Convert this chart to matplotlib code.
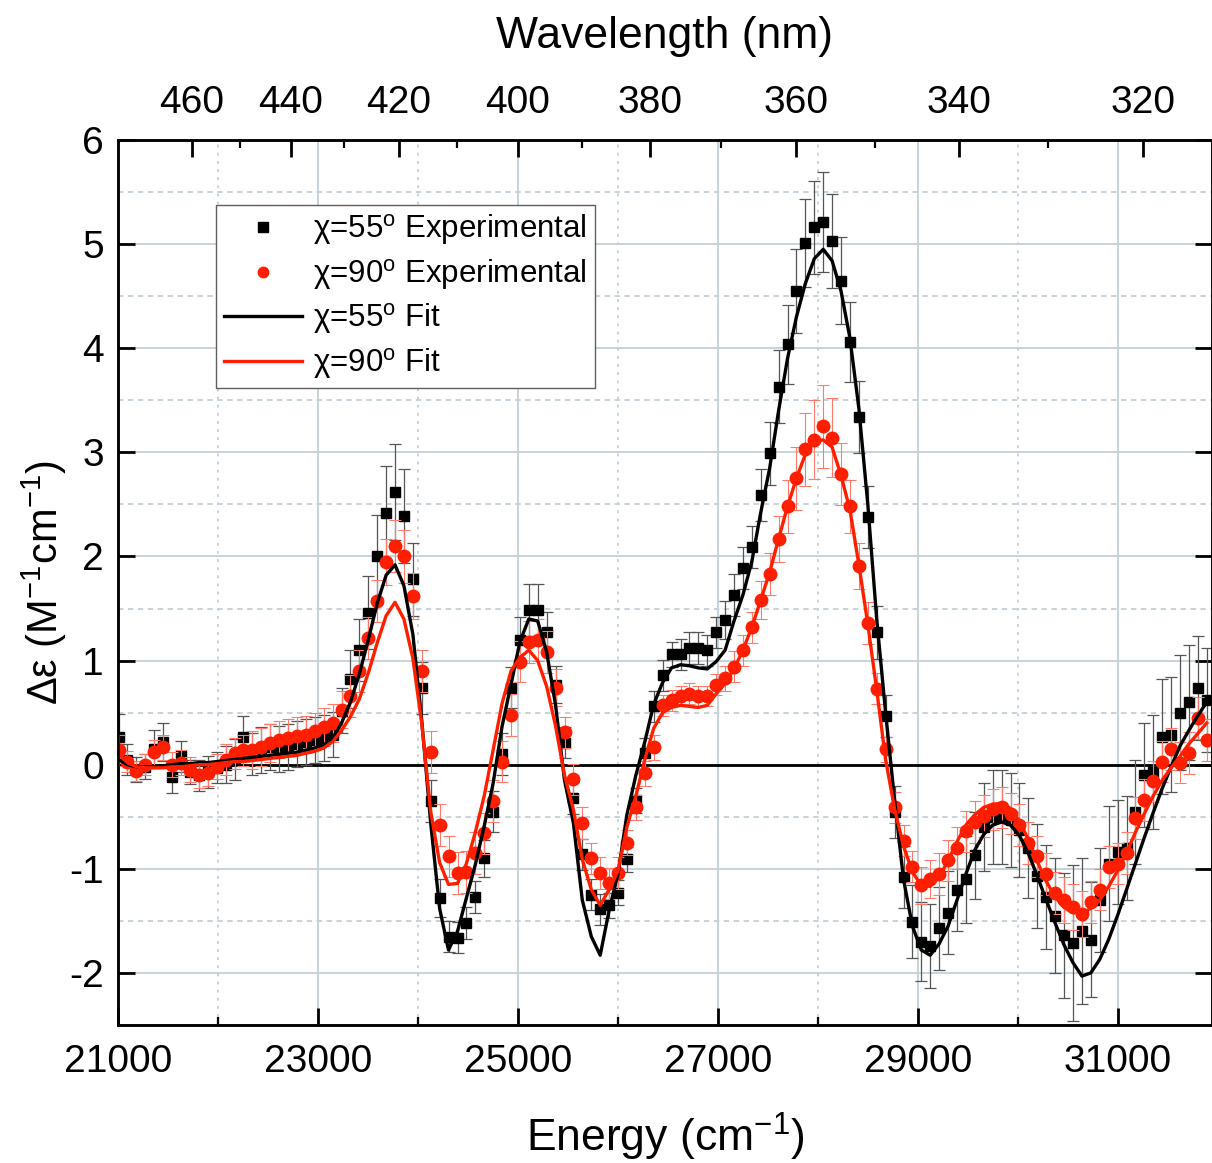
import numpy as np
import matplotlib.pyplot as plt
from matplotlib.lines import Line2D

plt.rcParams['font.family'] = ['Liberation Sans', 'DejaVu Sans']
plt.rcParams['mathtext.fontset'] = 'custom'
plt.rcParams['mathtext.rm'] = 'Liberation Sans'
plt.rcParams['mathtext.it'] = 'Liberation Sans:italic'
plt.rcParams['axes.unicode_minus'] = False

# Energy of each measured point (cm^-1)
energy = [
    21005, 21094, 21183, 21273, 21362, 21451, 21540, 21629, 21719, 21808,
    21897, 21986, 22075, 22165, 22254, 22343, 22432, 22521, 22611, 22700,
    22789, 22878, 22967, 23057, 23146, 23235, 23324, 23413, 23503, 23592,
    23681, 23770, 23859, 23949, 24038, 24127, 24216, 24305, 24395, 24484,
    24573, 24662, 24751, 24841, 24930, 25019, 25108, 25197, 25287, 25376,
    25465, 25554, 25643, 25733, 25822, 25911, 26000, 26089, 26179, 26268,
    26357, 26446, 26535, 26625, 26714, 26803, 26892, 26981, 27071, 27160,
    27249, 27338, 27427, 27517, 27606, 27695, 27784, 27873, 27963, 28052,
    28141, 28230, 28319, 28409, 28498, 28587, 28676, 28765, 28855, 28944,
    29033, 29122, 29211, 29301, 29390, 29479, 29568, 29657, 29747, 29836,
    29925, 30014, 30103, 30193, 30282, 30371, 30460, 30549, 30639, 30728,
    30817, 30906, 30995, 31085, 31174, 31263, 31352, 31441, 31531, 31620,
    31709, 31798, 31887]

# chi = 55 deg experimental
exp55 = [
    0.27, 0.05, -0.05, -0.02, 0.15, 0.22, -0.12, 0.08, -0.07, -0.10,
    -0.07, -0.03, 0.00, 0.05, 0.27, 0.10, 0.14, 0.17, 0.15, 0.17,
    0.20, 0.22, 0.24, 0.26, 0.29, 0.52, 0.82, 1.10, 1.46, 2.00,
    2.42, 2.62, 2.39, 1.78, 0.74, -0.35, -1.28, -1.65, -1.66, -1.52,
    -1.27, -0.90, -0.45, 0.10, 0.74, 1.20, 1.49, 1.49, 1.27, 0.77,
    0.21, -0.32, -0.86, -1.25, -1.39, -1.35, -1.23, -0.91, -0.34, 0.11,
    0.56, 0.86, 1.06, 1.06, 1.12, 1.12, 1.10, 1.27, 1.39, 1.63,
    1.89, 2.09, 2.59, 2.99, 3.63, 4.04, 4.55, 5.01, 5.16, 5.21,
    5.03, 4.65, 4.06, 3.34, 2.38, 1.27, 0.47, -0.45, -1.08, -1.51,
    -1.70, -1.74, -1.57, -1.42, -1.20, -1.10, -0.87, -0.60, -0.50, -0.50,
    -0.53, -0.63, -0.80, -1.07, -1.27, -1.45, -1.64, -1.71, -1.60, -1.68,
    -1.30, -0.95, -0.84, -0.80, -0.45, -0.10, -0.07, 0.27, 0.29, 0.50,
    0.60, 0.74, 0.62]

err55 = [
    0.22, 0.15, 0.12, 0.12, 0.18, 0.18, 0.15, 0.15, 0.12, 0.15,
    0.15, 0.15, 0.18, 0.20, 0.20, 0.20, 0.22, 0.22, 0.22, 0.22,
    0.22, 0.22, 0.22, 0.22, 0.22, 0.22, 0.28, 0.30, 0.35, 0.40,
    0.45, 0.46, 0.45, 0.35, 0.25, 0.20, 0.18, 0.15, 0.15, 0.15,
    0.15, 0.18, 0.20, 0.20, 0.20, 0.22, 0.25, 0.25, 0.20, 0.18,
    0.15, 0.15, 0.15, 0.15, 0.15, 0.12, 0.12, 0.12, 0.12, 0.15,
    0.15, 0.15, 0.12, 0.15, 0.15, 0.15, 0.15, 0.15, 0.18, 0.20,
    0.20, 0.20, 0.25, 0.30, 0.35, 0.38, 0.40, 0.42, 0.45, 0.48,
    0.45, 0.42, 0.38, 0.35, 0.30, 0.25, 0.20, 0.25, 0.30, 0.35,
    0.38, 0.40, 0.40, 0.40, 0.40, 0.42, 0.42, 0.42, 0.45, 0.45,
    0.45, 0.45, 0.48, 0.50, 0.50, 0.55, 0.60, 0.75, 0.70, 0.55,
    0.50, 0.55, 0.50, 0.50, 0.50, 0.50, 0.55, 0.55, 0.55, 0.55,
    0.55, 0.50, 0.50]

# chi = 90 deg experimental
exp90 = [
    0.14, 0.03, -0.06, 0.00, 0.12, 0.17, 0.00, 0.02, -0.05, -0.10,
    -0.08, -0.02, 0.05, 0.11, 0.14, 0.14, 0.17, 0.21, 0.24, 0.26,
    0.28, 0.29, 0.32, 0.36, 0.40, 0.53, 0.66, 0.90, 1.22, 1.57,
    1.95, 2.10, 2.00, 1.62, 0.90, 0.12, -0.58, -0.88, -1.04, -1.03,
    -0.85, -0.66, -0.35, 0.03, 0.48, 0.99, 1.18, 1.20, 1.08, 0.74,
    0.31, -0.14, -0.56, -0.90, -1.04, -1.14, -1.04, -0.75, -0.41, -0.08,
    0.17, 0.57, 0.62, 0.66, 0.68, 0.66, 0.66, 0.77, 0.83, 0.94,
    1.10, 1.32, 1.58, 1.83, 2.17, 2.48, 2.75, 3.03, 3.12, 3.25,
    3.14, 2.79, 2.48, 1.91, 1.36, 0.73, 0.15, -0.41, -0.73, -0.98,
    -1.16, -1.10, -1.05, -0.92, -0.80, -0.64, -0.55, -0.49, -0.43, -0.41,
    -0.47, -0.58, -0.75, -0.88, -1.05, -1.23, -1.30, -1.37, -1.43, -1.32,
    -1.20, -0.98, -0.95, -0.85, -0.51, -0.34, -0.16, 0.03, 0.15, 0.02,
    0.11, 0.45, 0.24]

err90 = [
    0.15, 0.10, 0.10, 0.10, 0.12, 0.12, 0.12, 0.12, 0.12, 0.12,
    0.12, 0.12, 0.15, 0.15, 0.15, 0.18, 0.18, 0.18, 0.18, 0.18,
    0.18, 0.18, 0.18, 0.18, 0.18, 0.18, 0.20, 0.20, 0.20, 0.20,
    0.22, 0.25, 0.25, 0.22, 0.20, 0.20, 0.20, 0.20, 0.20, 0.20,
    0.20, 0.20, 0.20, 0.20, 0.20, 0.20, 0.20, 0.20, 0.20, 0.18,
    0.15, 0.15, 0.15, 0.15, 0.15, 0.15, 0.15, 0.12, 0.12, 0.12,
    0.12, 0.10, 0.10, 0.10, 0.10, 0.10, 0.10, 0.10, 0.12, 0.15,
    0.15, 0.15, 0.18, 0.20, 0.22, 0.25, 0.30, 0.35, 0.38, 0.40,
    0.38, 0.30, 0.25, 0.22, 0.20, 0.15, 0.12, 0.15, 0.15, 0.15,
    0.18, 0.18, 0.20, 0.20, 0.20, 0.20, 0.20, 0.20, 0.20, 0.20,
    0.20, 0.20, 0.20, 0.20, 0.20, 0.20, 0.22, 0.22, 0.22, 0.20,
    0.20, 0.20, 0.20, 0.20, 0.20, 0.20, 0.20, 0.20, 0.20, 0.20,
    0.20, 0.20, 0.20]

# fits, evaluated at the same energies
fit55 = [
    0.05, 0.00, -0.02, -0.02, -0.02, -0.01, 0.00, 0.01, 0.01, 0.02,
    0.02, 0.03, 0.04, 0.05, 0.06, 0.07, 0.08, 0.09, 0.10, 0.11,
    0.12, 0.14, 0.16, 0.19, 0.25, 0.40, 0.60, 0.87, 1.20, 1.55,
    1.82, 1.92, 1.72, 1.25, 0.42, -0.56, -1.38, -1.78, -1.60, -1.28,
    -0.96, -0.59, -0.18, 0.37, 0.77, 1.18, 1.40, 1.38, 1.08, 0.57,
    -0.15, -0.56, -1.30, -1.65, -1.83, -1.40, -1.05, -0.48, -0.10, 0.22,
    0.58, 0.79, 0.93, 0.96, 0.95, 0.93, 0.92, 0.99, 1.10, 1.38,
    1.63, 1.95, 2.42, 2.85, 3.40, 3.90, 4.30, 4.62, 4.86, 4.95,
    4.84, 4.55, 4.10, 3.42, 2.50, 1.40, 0.50, -0.33, -1.10, -1.55,
    -1.78, -1.83, -1.72, -1.55, -1.30, -1.05, -0.82, -0.67, -0.58, -0.55,
    -0.58, -0.68, -0.85, -1.07, -1.30, -1.52, -1.73, -1.90, -2.03, -2.00,
    -1.87, -1.68, -1.45, -1.20, -0.95, -0.70, -0.46, -0.23, -0.02, 0.18,
    0.33, 0.47, 0.60]

fit90 = [
    0.10, 0.02, -0.02, -0.03, -0.03, -0.03, -0.02, -0.02, -0.01, 0.00,
    0.00, 0.01, 0.02, 0.03, 0.03, 0.04, 0.05, 0.06, 0.07, 0.08,
    0.09, 0.11, 0.13, 0.16, 0.22, 0.33, 0.46, 0.63, 0.88, 1.17,
    1.43, 1.56, 1.40, 1.02, 0.39, -0.45, -0.94, -1.15, -1.14, -0.95,
    -0.65, -0.30, 0.14, 0.59, 0.90, 1.03, 1.10, 1.00, 0.75, 0.37,
    -0.10, -0.43, -0.91, -1.20, -1.35, -1.20, -1.02, -0.60, -0.30, 0.05,
    0.35, 0.50, 0.55, 0.57, 0.56, 0.55, 0.57, 0.68, 0.78, 0.92,
    1.10, 1.32, 1.58, 1.85, 2.17, 2.48, 2.75, 2.98, 3.10, 3.12,
    3.05, 2.78, 2.45, 1.92, 1.35, 0.72, 0.05, -0.42, -0.78, -1.03,
    -1.16, -1.17, -1.08, -0.92, -0.74, -0.58, -0.48, -0.41, -0.38, -0.37,
    -0.42, -0.54, -0.72, -0.93, -1.12, -1.27, -1.37, -1.42, -1.43, -1.38,
    -1.30, -1.17, -1.02, -0.85, -0.65, -0.47, -0.30, -0.15, -0.03, 0.08,
    0.20, 0.30, 0.40]

# wavelength ticks for top axis (nm)
wl_major = [460, 440, 420, 400, 380, 360, 340, 320]
wl_minor = [450, 430, 410, 390, 370, 350, 330]

red = '#ff1e00'
grid_col = '#c3d0d6'

fig = plt.figure(figsize=(12.12, 11.63), dpi=100)
ax = fig.add_axes([118 / 1212, 1 - 1025 / 1163, 1094 / 1212, 885 / 1163])

ax.set_xlim(21000, 31940)
ax.set_ylim(-2.5, 6)
ax.set_xticks(np.arange(21000, 31001, 2000))
ax.set_xticks(np.arange(22000, 31001, 2000), minor=True)
ax.set_yticks(np.arange(-2, 7, 1))
ax.set_yticks(np.arange(-2.5, 6, 1), minor=True)

ax.xaxis.grid(True, which='major', color=grid_col, lw=1.3, ls='-')
ax.xaxis.grid(True, which='minor', color=grid_col, lw=1.3, ls=(0, (1.5, 3)))
ax.yaxis.grid(True, which='major', color=grid_col, lw=1.3, ls='-')
ax.yaxis.grid(True, which='minor', color=grid_col, lw=1.3, ls=(0, (3, 2.5)))
ax.set_axisbelow(True)

ax.axhline(0, color='black', lw=2.0, zorder=1.5)

# experimental points with error bars
ax.errorbar(energy, exp55, yerr=err55, fmt='none', ecolor='#555555',
            elinewidth=0.9, capsize=4.5, capthick=0.9, zorder=2)
ax.plot(energy, exp55, 's', color='black', ms=7.5, zorder=3)
ax.errorbar(energy, exp90, yerr=err90, fmt='none', ecolor='#ff7a6a',
            elinewidth=0.8, capsize=4.5, capthick=0.8, zorder=4)
ax.plot(energy, exp90, 'o', color=red, ms=9, zorder=5)

# fits
ax.plot(energy, fit55, color='black', lw=2.4, zorder=6)
ax.plot(energy, fit90, color=red, lw=2.4, zorder=7)

for s in ax.spines.values():
    s.set_linewidth(1.8)
ax.tick_params(which='major', direction='in', length=12, width=2,
               labelsize=28, top=False, right=True, pad=10)
ax.tick_params(axis='x', which='minor', direction='in', length=6, width=1.6,
               top=False)
ax.tick_params(axis='y', which='minor', length=0)
ax.tick_params(axis='x', which='major', pad=14)

ax.set_xlabel('Energy (cm$^{-1}$)', fontsize=32, labelpad=22)
ax.set_ylabel('\u0394\u03b5 (M$^{-1}$cm$^{-1}$)', fontsize=30, labelpad=0)

# top wavelength axis
ax2 = ax.twiny()
ax2.set_xlim(ax.get_xlim())
ax2.set_xticks(1e7 / np.array(wl_major))
ax2.set_xticklabels([str(w) for w in wl_major])
ax2.set_xticks(1e7 / np.array(wl_minor), minor=True)
ax2.tick_params(which='major', direction='in', length=12, width=2,
                labelsize=28, pad=14)
ax2.tick_params(which='minor', direction='in', length=6, width=1.6)
ax2.set_xlabel('Wavelength (nm)', fontsize=32, labelpad=26)
for s in ax2.spines.values():
    s.set_linewidth(1.8)

handles = [
    Line2D([], [], ls='none', marker='s', color='black', ms=7.5),
    Line2D([], [], ls='none', marker='o', color=red, ms=7.5),
    Line2D([], [], color='black', lw=2.4),
    Line2D([], [], color=red, lw=2.4),
]
labels = [
    '\u03c7=55$^{\\mathrm{o}}$ Experimental',
    '\u03c7=90$^{\\mathrm{o}}$ Experimental',
    '\u03c7=55$^{\\mathrm{o}}$ Fit',
    '\u03c7=90$^{\\mathrm{o}}$ Fit',
]
leg = ax.legend(handles, labels, loc='upper left', bbox_to_anchor=(0.09, 0.927),
                fontsize=22.5, frameon=True, fancybox=False, framealpha=1,
                edgecolor='#606060', borderaxespad=0, borderpad=0.25,
                handlelength=2.5, handletextpad=0.35, labelspacing=0.3)
leg.get_frame().set_linewidth(1.0)
leg.set_zorder(10)

fig.savefig('out.png', dpi=100)
